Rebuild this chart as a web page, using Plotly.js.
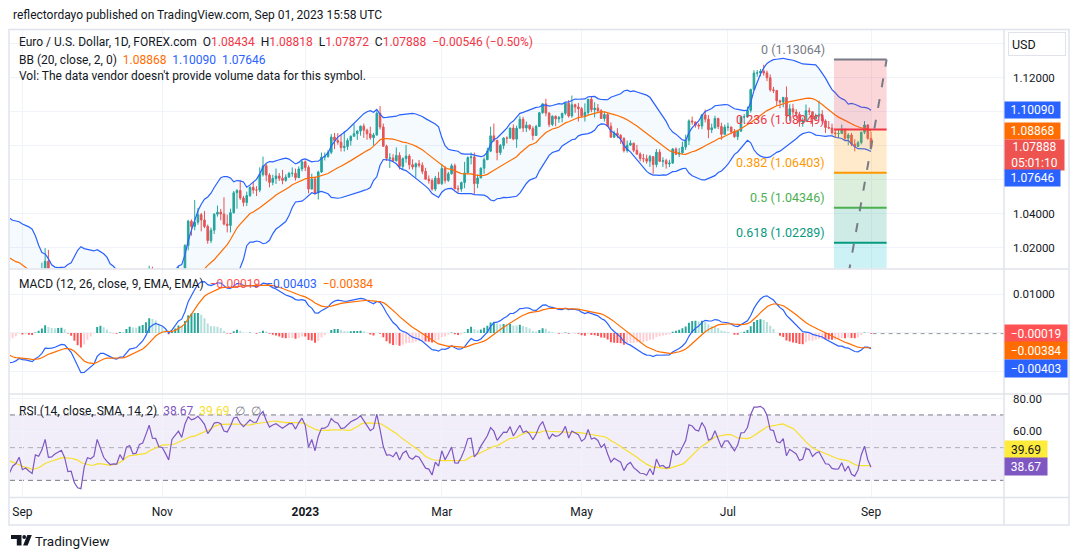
<!DOCTYPE html>
<html>
<head>
<meta charset="utf-8">
<script src="https://cdn.plot.ly/plotly-3.0.1.min.js"></script>
<style>
  html, body { margin: 0; padding: 0; background: #ffffff; }
  #chart { width: 1080px; height: 557px; }
</style>
</head>
<body>
<div id="chart"></div>
<script>
// ---------------------------------------------------------------
// EUR/USD daily, FOREX.com
// ---------------------------------------------------------------

// Closes Jun 1 - Aug 26 2022, history that feeds the indicators
const warmupCloses = [
  1.0648, 1.0749, 1.0718, 1.0696, 1.0704, 1.0716, 1.0615, 1.0518, 1.0410, 1.0414, 1.0445,
  1.0546, 1.0495, 1.0513, 1.0533, 1.0566, 1.0522, 1.0555, 1.0583, 1.0518, 1.0443, 1.0484,
  1.0426, 1.0423, 1.0265, 1.0183, 1.0161, 1.0185, 1.0039, 1.0036, 1.0061, 1.0019, 1.0083,
  1.0143, 1.0226, 1.0177, 1.0229, 1.0211, 1.0222, 1.0119, 1.0199, 1.0197, 1.0220,
  1.0261, 1.0164, 1.0167, 1.0247, 1.0183, 1.0196, 1.0211, 1.0297, 1.0321, 1.0257,
  1.0160, 1.0170, 1.0178, 1.0088, 1.0039, 0.9943, 0.9969, 0.9970, 0.9976, 0.9964
];

// Daily bars, Mon Aug 29 2022 to Fri Sep 1 2023 (weekdays)
const firstBarDate = '2022-08-29';

const closes = [
  // Aug 2022
  1.0002, 1.0017, 1.0053,
  // Sep
  0.9945, 0.9955, 0.9927, 0.9903, 1.0011, 1.0000, 1.0042, 1.0120, 0.9976, 0.9979, 0.9999,
  1.0015, 1.0025, 0.9969, 0.9836, 0.9838, 0.9690, 0.9607, 0.9592, 0.9737, 0.9815, 0.9803,
  // Oct
  0.9825, 0.9986, 0.9886, 0.9793, 0.9741, 0.9700, 0.9706, 0.9703, 0.9780, 0.9723, 0.9840,
  0.9856, 0.9774, 0.9779, 0.9861, 0.9875, 0.9964, 1.0078, 0.9965, 0.9963, 0.9882,
  // Nov
  0.9876, 0.9818, 0.9748, 0.9960, 1.0018, 1.0072, 1.0012, 1.0212, 1.0356, 1.0325, 1.0350,
  1.0394, 1.0363, 1.0325, 1.0242, 1.0303, 1.0397, 1.0409, 1.0398, 1.0339, 1.0331, 1.0406,
  // Dec
  1.0523, 1.0536, 1.0492, 1.0466, 1.0507, 1.0555, 1.0539, 1.0539, 1.0630, 1.0682, 1.0627,
  1.0584, 1.0607, 1.0622, 1.0608, 1.0596, 1.0615, 1.0637, 1.0638, 1.0612, 1.0663, 1.0705,
  // Jan 2023
  1.0672, 1.0545, 1.0604, 1.0522, 1.0645, 1.0733, 1.0736, 1.0761, 1.0851, 1.0830, 1.0821,
  1.0789, 1.0796, 1.0830, 1.0855, 1.0871, 1.0886, 1.0915, 1.0891, 1.0870, 1.0847, 1.0863,
  // Feb
  1.0991, 1.0910, 1.0797, 1.0726, 1.0728, 1.0712, 1.0743, 1.0678, 1.0724, 1.0739,
  1.0688, 1.0675, 1.0694, 1.0685, 1.0649, 1.0603, 1.0595, 1.0545, 1.0609, 1.0576,
  // Mar
  1.0666, 1.0596, 1.0635, 1.0682, 1.0547, 1.0545, 1.0583, 1.0640, 1.0730, 1.0734, 1.0577, 1.0610,
  1.0668, 1.0718, 1.0768, 1.0858, 1.0832, 1.0760, 1.0801, 1.0845, 1.0844, 1.0904, 1.0839,
  // Apr
  1.0903, 1.0955, 1.0904, 1.0921, 1.0900, 1.0860, 1.0913, 1.0994, 1.1046, 1.0992,
  1.0925, 1.0973, 1.0958, 1.0965, 1.0991, 1.1050, 1.0975, 1.1041, 1.1028, 1.1018,
  // May
  1.0976, 1.0995, 1.1073, 1.1012, 1.1021, 1.1006, 1.0960, 1.0983, 1.0915, 1.0850, 1.0873, 1.0861,
  1.0843, 1.0771, 1.0803, 1.0815, 1.0773, 1.0751, 1.0725, 1.0723, 1.0709, 1.0736, 1.0689,
  // Jun
  1.0762, 1.0708, 1.0712, 1.0693, 1.0698, 1.0780, 1.0750, 1.0758, 1.0792, 1.0830, 1.0946,
  1.0940, 1.0921, 1.0916, 1.0981, 1.0956, 1.0894, 1.0905, 1.0960, 1.0913, 1.0867, 1.0909,
  // Jul
  1.0910, 1.0882, 1.0853, 1.0886, 1.0968, 1.0970, 1.1008, 1.1130, 1.1227, 1.1228, 1.1238,
  1.1228, 1.1200, 1.1129, 1.1125, 1.1064, 1.1057, 1.1084, 1.0976, 1.1017, 1.0998,
  // Aug
  1.0985, 1.0939, 1.0947, 1.1006, 1.1000, 1.0957, 1.0974, 1.0982, 1.0946, 1.0907, 1.0904, 1.0876,
  1.0871, 1.0872, 1.0894, 1.0844, 1.0863, 1.0809, 1.0796, 1.0818, 1.0879, 1.0922, 1.08434,
  // Sep 1
  1.07888
];

const highs = [
  1.0029, 1.0055, 1.0079,
  1.0055, 1.0034, 0.9960, 0.9988, 1.0012, 1.0030, 1.0112, 1.0198, 1.0187, 1.0020, 1.0017,
  1.0036, 1.0050, 1.0051, 0.9976, 0.9906, 0.9853, 0.9712, 0.9671, 0.9748, 0.9818, 0.9854,
  0.9848, 0.9999, 0.9989, 0.9900, 0.9809, 0.9756, 0.9740, 0.9739, 0.9808, 0.9808, 0.9851,
  0.9876, 0.9876, 0.9847, 0.9870, 0.9876, 0.9976, 1.0094, 1.0088, 0.9985, 0.9976,
  0.9954, 0.9976, 0.9827, 0.9964, 1.0034, 1.0094, 1.0078, 1.0221, 1.0364, 1.0366, 1.0481,
  1.0434, 1.0404, 1.0416, 1.0336, 1.0318, 1.0403, 1.0448, 1.0428, 1.0497, 1.0394, 1.0429,
  1.0534, 1.0545, 1.0595, 1.0505, 1.0530, 1.0562, 1.0588, 1.0562, 1.0673, 1.0736, 1.0693,
  1.0638, 1.0629, 1.0666, 1.0639, 1.0658, 1.0631, 1.0646, 1.0672, 1.0665, 1.0678, 1.0714,
  1.0713, 1.0684, 1.0635, 1.0620, 1.0653, 1.0760, 1.0760, 1.0774, 1.0869, 1.0875, 1.0874,
  1.0867, 1.0887, 1.0843, 1.0861, 1.0927, 1.0890, 1.0918, 1.0930, 1.0900, 1.0912, 1.0875,
  1.1003, 1.1033, 1.0930, 1.0806, 1.0756, 1.0750, 1.0790, 1.0761, 1.0731, 1.0805,
  1.0750, 1.0720, 1.0700, 1.0716, 1.0702, 1.0670, 1.0625, 1.0608, 1.0622, 1.0646,
  1.0691, 1.0680, 1.0647, 1.0694, 1.0695, 1.0567, 1.0589, 1.0705, 1.0737, 1.0760, 1.0760, 1.0630,
  1.0672, 1.0731, 1.0788, 1.0912, 1.0930, 1.0833, 1.0810, 1.0849, 1.0855, 1.0905, 1.0925,
  1.0918, 1.0973, 1.0970, 1.0942, 1.0925, 1.0915, 1.0923, 1.0997, 1.1050, 1.1076,
  1.0996, 1.0979, 1.0978, 1.0975, 1.0992, 1.1054, 1.1068, 1.1095, 1.1047, 1.1051,
  1.1028, 1.1049, 1.1075, 1.1092, 1.1055, 1.1045, 1.1015, 1.1000, 1.0991, 1.0937, 1.0888, 1.0903,
  1.0868, 1.0850, 1.0830, 1.0832, 1.0817, 1.0805, 1.0761, 1.0752, 1.0747, 1.0746, 1.0737,
  1.0780, 1.0779, 1.0732, 1.0723, 1.0717, 1.0787, 1.0790, 1.0786, 1.0823, 1.0865, 1.0955,
  1.0971, 1.0937, 1.0932, 1.0985, 1.1012, 1.0980, 1.0930, 1.0976, 1.0965, 1.0935, 1.0924,
  1.0935, 1.0912, 1.0898, 1.0893, 1.0975, 1.0986, 1.1030, 1.1136, 1.1244, 1.1245, 1.1251,
  1.1276, 1.1242, 1.1219, 1.1146, 1.1128, 1.1071, 1.1087, 1.1149, 1.1044, 1.1046,
  1.1015, 1.0999, 1.0965, 1.1042, 1.1024, 1.1000, 1.0989, 1.1065, 1.1009, 1.0955, 1.0945, 1.0930,
  1.0897, 1.0893, 1.0924, 1.0902, 1.0874, 1.0875, 1.0838, 1.0829, 1.0882, 1.0945, 1.0925,
  1.08818
];

const lows = [
  0.9930, 0.9963, 0.9986,
  0.9910, 0.9945, 0.9877, 0.9875, 0.9863, 0.9930, 0.9990, 1.0040, 0.9956, 0.9956, 0.9955,
  0.9945, 0.9966, 0.9965, 0.9807, 0.9807, 0.9670, 0.9536, 0.9570, 0.9536, 0.9632, 0.9748,
  0.9750, 0.9820, 0.9837, 0.9775, 0.9727, 0.9670, 0.9669, 0.9668, 0.9632, 0.9702, 0.9722,
  0.9820, 0.9758, 0.9756, 0.9705, 0.9808, 0.9859, 0.9961, 0.9955, 0.9928, 0.9871,
  0.9851, 0.9815, 0.9730, 0.9743, 0.9928, 0.9981, 0.9991, 0.9936, 1.0185, 1.0271, 1.0303,
  1.0335, 1.0296, 1.0315, 1.0223, 1.0227, 1.0281, 1.0383, 1.0361, 1.0331, 1.0290, 1.0290,
  1.0400, 1.0429, 1.0481, 1.0443, 1.0445, 1.0498, 1.0518, 1.0504, 1.0526, 1.0619, 1.0591,
  1.0555, 1.0567, 1.0575, 1.0592, 1.0573, 1.0588, 1.0613, 1.0617, 1.0595, 1.0610, 1.0649,
  1.0651, 1.0520, 1.0543, 1.0512, 1.0483, 1.0640, 1.0713, 1.0730, 1.0750, 1.0780, 1.0806,
  1.0766, 1.0766, 1.0775, 1.0801, 1.0855, 1.0834, 1.0859, 1.0846, 1.0835, 1.0835, 1.0800,
  1.0859, 1.0895, 1.0792, 1.0710, 1.0669, 1.0705, 1.0706, 1.0660, 1.0658, 1.0700,
  1.0661, 1.0660, 1.0613, 1.0672, 1.0633, 1.0600, 1.0577, 1.0536, 1.0533, 1.0574,
  1.0570, 1.0578, 1.0587, 1.0630, 1.0543, 1.0524, 1.0529, 1.0550, 1.0640, 1.0690, 1.0516, 1.0550,
  1.0610, 1.0635, 1.0715, 1.0762, 1.0822, 1.0714, 1.0745, 1.0780, 1.0813, 1.0844, 1.0832,
  1.0788, 1.0902, 1.0880, 1.0880, 1.0890, 1.0832, 1.0860, 1.0913, 1.0988, 1.0973,
  1.0909, 1.0915, 1.0915, 1.0935, 1.0937, 1.0980, 1.0965, 1.0965, 1.0994, 1.0942,
  1.0966, 1.0942, 1.0981, 1.0997, 1.0966, 1.0994, 1.0958, 1.0942, 1.0910, 1.0848, 1.0845, 1.0845,
  1.0810, 1.0760, 1.0759, 1.0800, 1.0762, 1.0745, 1.0708, 1.0702, 1.0694, 1.0675, 1.0635,
  1.0673, 1.0705, 1.0675, 1.0665, 1.0674, 1.0693, 1.0745, 1.0733, 1.0752, 1.0775, 1.0804,
  1.0923, 1.0906, 1.0896, 1.0897, 1.0937, 1.0844, 1.0874, 1.0900, 1.0898, 1.0835, 1.0865,
  1.0888, 1.0867, 1.0847, 1.0833, 1.0880, 1.0934, 1.0970, 1.0995, 1.1130, 1.1206, 1.1208,
  1.1212, 1.1180, 1.1118, 1.1110, 1.1036, 1.1020, 1.1026, 1.0960, 1.0946, 1.0970,
  1.0963, 1.0912, 1.0912, 1.0940, 1.0980, 1.0912, 1.0949, 1.0965, 1.0930, 1.0875, 1.0897, 1.0865,
  1.0848, 1.0845, 1.0872, 1.0832, 1.0802, 1.0797, 1.0766, 1.0792, 1.0808, 1.0868, 1.0835,
  1.07872
];

// Indicator readouts shown on the last bar
const bbReadout = { basis: 1.08868, upper: 1.10090, lower: 1.07646 };
const macdReadout = { hist: -0.00019, macd: -0.00403, signal: -0.00384 };
const rsiReadout = { rsi: 38.67, ma: 39.69 };
const countdown = '05:01:10';

// Fibonacci retracement drawn over the latest swing
const fibLevels = ['0', '0.236', '0.382', '0.5', '0.618', '0.786'];
const fibPrices = [1.13064, 1.08949, 1.06403, 1.04346, 1.02289, 0.99359];
const fibAnchorLow = 0.95627;

// Time axis labels
const tickMonths = ['2022-09', '2022-11', '2023-01', '2023-03', '2023-05', '2023-07', '2023-09'];
const tickLabels = ['Sep', 'Nov', '<b>2023</b>', 'Mar', 'May', 'Jul', 'Sep'];

// Scale labels (levels whose label sits under a value tag are left blank)
const priceTicks = [1.02, 1.04, 1.06, 1.08, 1.10, 1.12, 1.14];
const priceTickText = ['1.02000', '1.04000', '', '', '', '1.12000', ''];
const macdTicks = [-0.01, 0, 0.01];
const macdTickText = ['', '', '0.01000'];
const rsiTicks = [40, 60, 80];
const rsiTickText = ['', '60.00', '80.00'];

// ---------------------------------------------------------------
// Series helpers
// ---------------------------------------------------------------
function weekdayDates(start, count) {
  const out = [];
  const d = new Date(start + 'T00:00:00Z');
  while (out.length < count) {
    const wd = d.getUTCDay();
    if (wd !== 0 && wd !== 6) out.push(d.toISOString().slice(0, 10));
    d.setUTCDate(d.getUTCDate() + 1);
  }
  return out;
}

function smoothed(src, n, alpha) {
  const out = new Array(src.length).fill(null);
  let prev = null;
  const buf = [];
  for (let i = 0; i < src.length; i++) {
    const v = src[i];
    if (v == null) continue;
    if (prev == null) {
      buf.push(v);
      if (buf.length === n) { prev = buf.reduce((s, x) => s + x, 0) / n; out[i] = prev; }
    } else {
      prev = alpha * v + (1 - alpha) * prev;
      out[i] = prev;
    }
  }
  return out;
}
const ema = (src, n) => smoothed(src, n, 2 / (n + 1));
const rma = (src, n) => smoothed(src, n, 1 / n);

function sma(src, n) {
  const out = new Array(src.length).fill(null);
  for (let i = n - 1; i < src.length; i++) {
    const win = src.slice(i - n + 1, i + 1);
    if (win.some(v => v == null)) continue;
    out[i] = win.reduce((s, x) => s + x, 0) / n;
  }
  return out;
}

// ---------------------------------------------------------------
// Build series
// ---------------------------------------------------------------
const nWarm = warmupCloses.length;
const allCloses = warmupCloses.concat(closes);
const allX = allCloses.map((_, i) => i - nWarm);
const barX = closes.map((_, i) => i);
const dates = weekdayDates(firstBarDate, closes.length);
const opens = closes.map((_, i) => (i === 0 ? warmupCloses[nWarm - 1] : closes[i - 1]));

// Bollinger Bands (20, 2)
const bbMid = sma(allCloses, 20);
const bbUp = [], bbLo = [];
allCloses.forEach((_, i) => {
  if (bbMid[i] == null) { bbUp.push(null); bbLo.push(null); return; }
  const win = allCloses.slice(i - 19, i + 1);
  const m = bbMid[i];
  const sd = Math.sqrt(win.reduce((s, v) => s + (v - m) * (v - m), 0) / 20);
  bbUp.push(m + 2 * sd);
  bbLo.push(m - 2 * sd);
});

// MACD (12, 26, 9)
const ema12 = ema(allCloses, 12), ema26 = ema(allCloses, 26);
const macd = allCloses.map((_, i) => (ema12[i] != null && ema26[i] != null ? ema12[i] - ema26[i] : null));
const signal = ema(macd, 9);
const hist = macd.map((v, i) => (v != null && signal[i] != null ? v - signal[i] : null));
const histColors = hist.map((h, i) => {
  const p = i > 0 ? hist[i - 1] : null;
  if (h == null) return 'rgba(0,0,0,0)';
  const rising = p != null && p < h;
  if (h >= 0) return rising ? '#26a69a' : '#b2dfdb';
  return rising ? '#ffcdd2' : '#ff5252';
});

// RSI (14) and its 14-bar SMA
const gains = allCloses.map((c, i) => (i === 0 ? null : Math.max(c - allCloses[i - 1], 0)));
const losses = allCloses.map((c, i) => (i === 0 ? null : Math.max(allCloses[i - 1] - c, 0)));
const avgGain = rma(gains, 14), avgLoss = rma(losses, 14);
const rsi = avgGain.map((g, i) => {
  const l = avgLoss[i];
  if (g == null || l == null) return null;
  if (l === 0) return 100;
  return 100 - 100 / (1 + g / l);
});
const rsiMa = sma(rsi, 14);

// ---------------------------------------------------------------
// Geometry (pixels of the 1080x557 canvas)
// ---------------------------------------------------------------
const plotL = 10, plotR = 1004, plotT = 30, plotB = 497;
const PX = px => (px - plotL) / (plotR - plotL);
const PY = py => (plotB - py) / (plotB - plotT);

const xRange = [-0.81, 304.9];
const priceRange = [1.00776, 1.14806];
const macdRange = [-0.015619, 0.016211];
const rsiRange = [19.82, 82.2];
const fibX0 = 252.6, fibX1 = 268.8;

const tickIdx = tickMonths.map(m => dates.findIndex(d => d.startsWith(m)));

const FONT = 'Roboto, "Liberation Sans", Arial, sans-serif';
const TXT = '#131722';
const GRID = '#f0f3fa';
const BORDER = '#e0e3eb';
const UP = '#26a69a', DOWN = '#ef5350';
const BLUE = '#2962ff', ORANGE = '#ff6d00', PURPLE = '#7e57c2', YELLOW = '#f7df2c';
const RED = '#f23645';

const minus = s => s.replace(/-/g, '\u2212');
const f5 = v => minus(v.toFixed(5));
const sp = '\u00a0\u00a0';
const col = (c, t) => `<span style="color:${c}">${t}</span>`;

// ---------------------------------------------------------------
// Traces
// ---------------------------------------------------------------
const traces = [
  { type: 'scatter', mode: 'lines', x: allX, y: bbUp, xaxis: 'x', yaxis: 'y',
    line: { color: BLUE, width: 1.2 }, hoverinfo: 'skip' },
  { type: 'scatter', mode: 'lines', x: allX, y: bbLo, xaxis: 'x', yaxis: 'y',
    line: { color: BLUE, width: 1.2 }, fill: 'tonexty', fillcolor: 'rgba(33,150,243,0.045)', hoverinfo: 'skip' },
  { type: 'scatter', mode: 'lines', x: allX, y: bbMid, xaxis: 'x', yaxis: 'y',
    line: { color: ORANGE, width: 1.2 }, hoverinfo: 'skip' },
  { type: 'candlestick', x: barX, open: opens, high: highs, low: lows, close: closes,
    xaxis: 'x', yaxis: 'y', whiskerwidth: 0,
    increasing: { line: { color: UP, width: 1 }, fillcolor: UP },
    decreasing: { line: { color: DOWN, width: 1 }, fillcolor: DOWN },
    hoverinfo: 'skip' },

  { type: 'bar', x: allX, y: hist, xaxis: 'x', yaxis: 'y2', width: 0.6,
    marker: { color: histColors, line: { width: 0 } }, hoverinfo: 'skip' },
  { type: 'scatter', mode: 'lines', x: allX, y: macd, xaxis: 'x', yaxis: 'y2',
    line: { color: BLUE, width: 1.2 }, hoverinfo: 'skip' },
  { type: 'scatter', mode: 'lines', x: allX, y: signal, xaxis: 'x', yaxis: 'y2',
    line: { color: ORANGE, width: 1.2 }, hoverinfo: 'skip' },

  { type: 'scatter', mode: 'lines', x: allX, y: rsiMa, xaxis: 'x', yaxis: 'y3',
    line: { color: YELLOW, width: 1.2 }, hoverinfo: 'skip' },
  { type: 'scatter', mode: 'lines', x: allX, y: rsi, xaxis: 'x', yaxis: 'y3',
    line: { color: PURPLE, width: 1.2 }, hoverinfo: 'skip' }
];

// ---------------------------------------------------------------
// Shapes
// ---------------------------------------------------------------
const shapes = [];
const fibFills = ['rgba(242,54,69,0.2)', 'rgba(255,152,0,0.2)', 'rgba(76,175,80,0.2)',
                  'rgba(8,153,129,0.2)', 'rgba(0,188,212,0.2)'];
const fibLines = ['#787b86', '#f23645', '#ff9800', '#4caf50', '#089981', '#00bcd4'];

// RSI band and levels
shapes.push({ type: 'rect', xref: 'paper', yref: 'y3', x0: 0, x1: 1, y0: 30, y1: 70,
  fillcolor: 'rgba(126,87,194,0.1)', line: { width: 0 }, layer: 'below' });
[70, 50, 30].forEach(v => shapes.push({ type: 'line', xref: 'paper', yref: 'y3', x0: 0, x1: 1, y0: v, y1: v,
  line: { color: v === 50 ? 'rgba(120,123,134,0.55)' : '#787b86', width: 1, dash: '5px,4px' }, layer: 'below' }));

// MACD histogram price line
shapes.push({ type: 'line', xref: 'x', yref: 'y2', x0: barX[barX.length - 1] + 0.5, x1: xRange[1],
  y0: macdReadout.hist, y1: macdReadout.hist, line: { color: '#9598a1', width: 1, dash: '4px,4px' } });

// Fibonacci bands and levels
for (let k = 0; k < 5; k++) {
  shapes.push({ type: 'rect', xref: 'x', yref: 'y', x0: fibX0, x1: fibX1, y0: fibPrices[k + 1], y1: fibPrices[k],
    fillcolor: fibFills[k], line: { width: 0 }, layer: 'above' });
}
for (let k = 0; k < 6; k++) {
  shapes.push({ type: 'line', xref: 'x', yref: 'y', x0: fibX0, x1: fibX1, y0: fibPrices[k], y1: fibPrices[k],
    line: { color: fibLines[k], width: 2 }, layer: 'above' });
}
shapes.push({ type: 'line', xref: 'x', yref: 'y', x0: fibX0, x1: fibX1, y0: fibAnchorLow, y1: fibPrices[0],
  line: { color: '#787b86', width: 2, dash: '9px,12px' }, layer: 'above' });

// Frame, pane separators and axis border
shapes.push({ type: 'rect', xref: 'paper', yref: 'paper', x0: PX(9), x1: PX(1069), y0: PY(525), y1: PY(29.5),
  line: { color: BORDER, width: 1.5 }, fillcolor: 'rgba(0,0,0,0)' });
[269, 394, 497.5].forEach(py => shapes.push({ type: 'line', xref: 'paper', yref: 'paper',
  x0: PX(9), x1: PX(1069), y0: PY(py), y1: PY(py), line: { color: BORDER, width: 1.5 } }));
shapes.push({ type: 'line', xref: 'paper', yref: 'paper', x0: 1, x1: 1, y0: PY(525), y1: PY(29.5),
  line: { color: BORDER, width: 1.5 } });

// Footer logo mark
const pathPx = pts => 'M ' + pts.map(p => PX(p[0]) + ' ' + PY(p[1])).join(' L ') + ' Z';
const LOGO = '#131722';
shapes.push({ type: 'path', xref: 'paper', yref: 'paper', fillcolor: LOGO, line: { width: 0 },
  path: pathPx([[11, 535], [21.5, 535], [21.5, 545.5], [16.8, 545.5], [16.8, 539.1], [11, 539.1]]) });
shapes.push({ type: 'circle', xref: 'paper', yref: 'paper', fillcolor: LOGO, line: { width: 0 },
  x0: PX(22.3), x1: PX(26.1), y0: PY(538.9), y1: PY(535.1) });
shapes.push({ type: 'path', xref: 'paper', yref: 'paper', fillcolor: LOGO, line: { width: 0 },
  path: pathPx([[27.3, 535], [31.8, 535], [27.6, 545.5], [23.1, 545.5]]) });

// ---------------------------------------------------------------
// Annotations
// ---------------------------------------------------------------
const annotations = [];
const textAt = (text, px, py, size, color, extra) => annotations.push(Object.assign({
  xref: 'paper', yref: 'paper', x: PX(px), y: PY(py), xanchor: 'left', yanchor: 'middle',
  text, showarrow: false, font: { family: FONT, size, color } }, extra || {}));

textAt('reflectordayo published on TradingView.com, Sep 01, 2023 15:58 UTC', 10.5, 15.5, 12, TXT);

const n = closes.length - 1;
const chg = closes[n] - closes[n - 1];
const chgPct = (chg / closes[n - 1]) * 100;
textAt('Euro / U.S. Dollar, 1D, FOREX.com' + sp +
  'O' + col(RED, opens[n].toFixed(5)) + sp + 'H' + col(RED, highs[n].toFixed(5)) + sp +
  'L' + col(RED, lows[n].toFixed(5)) + sp + 'C' + col(RED, closes[n].toFixed(5)) + sp +
  col(RED, f5(chg) + ' (' + minus(chgPct.toFixed(2)) + '%)'), 16.5, 42.5, 12, TXT);
textAt('BB (20, close, 2, 0)' + sp + col(ORANGE, bbReadout.basis.toFixed(5)) + sp +
  col(BLUE, bbReadout.upper.toFixed(5)) + sp + col(BLUE, bbReadout.lower.toFixed(5)), 16.5, 59.5, 12, TXT);
textAt("Vol: The data vendor doesn't provide volume data for this symbol.", 16.5, 76.5, 12, TXT);

textAt('MACD (12, 26, close, 9, EMA, EMA)' + sp + col('#ff5252', f5(macdReadout.hist)) + sp +
  col(BLUE, f5(macdReadout.macd)) + sp + col(ORANGE, f5(macdReadout.signal)), 16.5, 284, 12, TXT);
textAt('RSI (14, close, SMA, 14, 2)' + sp + col(PURPLE, rsiReadout.rsi.toFixed(2)) + sp +
  col(YELLOW, rsiReadout.ma.toFixed(2)) + sp + col('#787b86', '\u2205') + sp + col('#787b86', '\u2205'),
  16.5, 411, 12, TXT);

textAt('TradingView', 33, 540.5, 13.5, TXT);

// Fibonacci labels
const fibColors = ['#787b86', '#f23645', '#ff9800', '#4caf50', '#089981'];
for (let k = 0; k < 5; k++) {
  annotations.push({ xref: 'x', yref: 'y', x: fibX0, y: fibPrices[k], xanchor: 'right', yanchor: 'middle',
    xshift: -7, yshift: 10, showarrow: false, text: fibLevels[k] + ' (' + fibPrices[k].toFixed(5) + ')',
    font: { family: FONT, size: 12.5, color: fibColors[k] } });
}

// Price-scale tags
function tag(text, yref, y, bg, fg, width, height, yshift, yanchor) {
  annotations.push({ xref: 'paper', yref, x: 1, y, xanchor: 'left', yanchor: yanchor || 'middle',
    yshift: yshift || 0, text, showarrow: false, bgcolor: bg, borderpad: 2, width, height, align: 'center',
    font: { family: FONT, size: 12, color: fg } });
}
tag(bbReadout.upper.toFixed(5), 'y', bbReadout.upper, BLUE, '#ffffff', 51, 12, 0);
tag(bbReadout.basis.toFixed(5), 'y', bbReadout.basis, ORANGE, '#ffffff', 51, 12, 0);
tag(closes[n].toFixed(5) + '<br>' + countdown, 'y', closes[n], DOWN, '#ffffff', 55, 26, 8.5, 'top');
tag(bbReadout.lower.toFixed(5), 'y', bbReadout.lower, BLUE, '#ffffff', 51, 12, -26);

tag(f5(macdReadout.hist), 'y2', macdReadout.hist, '#ff5252', '#ffffff', 58, 13, 0);
tag(f5(macdReadout.signal), 'y2', macdReadout.signal, ORANGE, '#ffffff', 58, 13, -3);
tag(f5(macdReadout.macd), 'y2', macdReadout.macd, BLUE, '#ffffff', 58, 13, -20);

tag(rsiReadout.ma.toFixed(2), 'y3', rsiReadout.ma, '#ffeb3b', TXT, 38, 13, 15);
tag(rsiReadout.rsi.toFixed(2), 'y3', rsiReadout.rsi, PURPLE, '#ffffff', 38, 13, 0);

// Currency button
annotations.push({ xref: 'paper', yref: 'paper', x: PX(1008), y: PY(43.5), xanchor: 'left', yanchor: 'middle',
  text: 'USD', showarrow: false, bgcolor: '#ffffff', bordercolor: BORDER, borderwidth: 1, borderpad: 3,
  width: 50, height: 16, align: 'left', font: { family: FONT, size: 12.5, color: TXT } });

// ---------------------------------------------------------------
// Layout
// ---------------------------------------------------------------
const yCommon = {
  side: 'right', showgrid: true, gridcolor: GRID, zeroline: false, showline: false, tickmode: 'array',
  ticks: '', ticklabelstandoff: 8, tickfont: { family: FONT, size: 11.5, color: TXT }, fixedrange: true
};

const layout = {
  width: 1080, height: 557,
  margin: { l: plotL, r: 1080 - plotR, t: plotT, b: 557 - plotB },
  paper_bgcolor: '#ffffff', plot_bgcolor: '#ffffff',
  showlegend: false, dragmode: false,
  xaxis: {
    anchor: 'y3', range: xRange, tickmode: 'array', tickvals: tickIdx, ticktext: tickLabels,
    showgrid: true, gridcolor: GRID, zeroline: false, showline: false, ticks: '',
    ticklabelstandoff: 6, tickfont: { family: FONT, size: 12, color: TXT },
    rangeslider: { visible: false }, fixedrange: true
  },
  yaxis: Object.assign({}, yCommon, {
    domain: [PY(268.5), 1], range: priceRange, tickvals: priceTicks, ticktext: priceTickText
  }),
  yaxis2: Object.assign({}, yCommon, {
    domain: [PY(393.5), PY(270)], range: macdRange, tickvals: macdTicks, ticktext: macdTickText
  }),
  yaxis3: Object.assign({}, yCommon, {
    domain: [0, PY(395)], range: rsiRange, tickvals: rsiTicks, ticktext: rsiTickText
  }),
  shapes, annotations,
  font: { family: FONT, color: TXT }
};

Plotly.newPlot('chart', traces, layout, { displayModeBar: false, staticPlot: true });
</script>
</body>
</html>
